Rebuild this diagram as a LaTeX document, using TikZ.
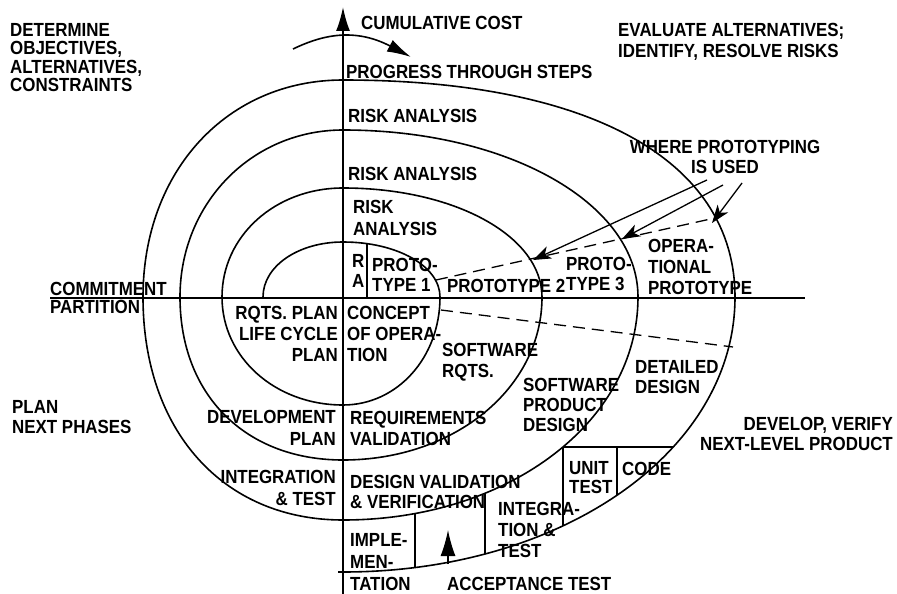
\documentclass[tikz,border=0pt]{standalone}
\usepackage{fontspec}
\setmainfont{Liberation Sans}[FakeStretch=0.89]
\usetikzlibrary{arrows.meta}
% label font: 19pt bold, line pitch given as argument
\newcommand\labelsize[1]{\fontsize{19}{#1}\selectfont\bfseries}
\tikzset{
  lbl/.style={inner sep=0pt, anchor=base west, align=left, font=\labelsize{21}},
  lblr/.style={inner sep=0pt, anchor=base east, align=right, font=\labelsize{21}},
  lblc/.style={inner sep=0pt, anchor=base, align=center, font=\labelsize{21}},
  pitch/.style={font=\labelsize{#1}},
  spiral/.style={line width=1.6pt, line join=round},
  axisline/.style={line width=1.8pt},
  divider/.style={line width=1.4pt},
  dashline/.style={line width=1.3pt, dash pattern=on 12pt off 7pt},
  bigtip/.style={-{Latex[length=24pt,width=14pt]}},
  protoarrow/.style={line width=1.3pt, -{Stealth[length=18pt,width=13pt,inset=5pt]}},
}
\begin{document}
\begin{tikzpicture}[x=1pt, y=-1pt]
\useasboundingbox[fill=white] (0,0) rectangle (897,594);

% axes
\coordinate (vbot) at (343,594);
\coordinate (vtop) at (343,7);
\coordinate (hleft) at (50,298);
\coordinate (hright) at (805,298);
\draw[axisline, bigtip] (vbot) -- (vtop);
\draw[axisline, line width=2.2pt] (hleft) -- (hright);

% the spiral, quarter by quarter
\draw[spiral] (263,297)
  .. controls (263,266.2) and (298.2,242) .. (343,242)
  .. controls (397.3,242) and (440,266.2) .. (440,297)
  .. controls (440,357.5) and (397.3,405) .. (343,405)
  .. controls (275.2,405) and (222,357.5) .. (222,297)
  .. controls (222,236) and (275.2,188) .. (343,188)
  .. controls (454.4,188) and (542,236) .. (542,297)
  .. controls (542,388.3) and (454.4,460) .. (343,460)
  .. controls (245.2,460) and (180,394.8) .. (180,297)
  .. controls (180,203.5) and (251.7,130) .. (343,130)
  .. controls (508.2,130) and (638,203.5) .. (638,297)
  .. controls (638,421.9) and (508.2,520) .. (343,520)
  .. controls (223,520) and (143,430.8) .. (143,297)
  .. controls (143,171.1) and (227,80) .. (343,80)
  .. controls (590,80) and (735,160.3) .. (735,297)
  .. controls (735,451) and (562.5,572) .. (343,572) -- (338,572);

% progress arrow over the axis
\coordinate (pstart) at (293,49);
\coordinate (pend) at (411,57);
\draw[line width=1.6pt, -{Latex[length=24pt,width=13pt]}] (pstart) .. controls (318,37) and (352,26) .. (pend);

% section dividers
\draw[divider] (367,243.6) -- (367,297);
\draw[divider] (415,513.6) -- (415,567.6);
\draw[divider] (485,494) -- (485,554);
\draw[divider] (563,447) -- (673,447);
\draw[divider] (563,447) -- (563,525.6);
\draw[divider] (617,447) -- (617,495);

% dashed partition lines
\coordinate (da1) at (436,280);
\coordinate (da2) at (715,218);
\coordinate (db1) at (441,310);
\coordinate (db2) at (733,347);
\draw[dashline] (da1) -- (da2);
\draw[dashline] (db1) -- (db2);

% prototyping pointers
\coordinate (ps1) at (707,180);
\coordinate (pt1) at (533,260);
\coordinate (ps2) at (723,185);
\coordinate (pt2) at (622,239);
\coordinate (ps3) at (742,183);
\coordinate (pt3) at (712,223);
\draw[protoarrow] (ps1) -- (pt1);
\draw[protoarrow] (ps2) -- (pt2);
\draw[protoarrow] (ps3) -- (pt3);

% acceptance test arrow
\coordinate (acs) at (448,564);
\coordinate (act) at (448,530);
\draw[line width=1.4pt, -{Latex[length=26pt,width=15pt]}] (acs) -- (act);

% quadrant captions (positions are the baseline of the last line)
\node[lbl, pitch=18.5] (det) at (10,92) {DETERMINE\\OBJECTIVES,\\ALTERNATIVES,\\CONSTRAINTS};
\node[lbl] (eval) at (618,58) {EVALUATE ALTERNATIVES;\\IDENTIFY, RESOLVE RISKS};
\node[lbl, pitch=20] (plannext) at (12,433) {PLAN\\NEXT PHASES};
\node[lblr, pitch=20] (develop) at (893,450) {DEVELOP, VERIFY\\NEXT-LEVEL PRODUCT};
\node[lbl, pitch=18] (commit) at (50,313) {COMMITMENT\\PARTITION};
\node[lblc, pitch=20] (where) at (725,173) {WHERE PROTOTYPING\\IS USED};

% axis captions
\node[lbl] (cum) at (361,30) {CUMULATIVE COST};
\node[lbl] (prog) at (346,78) {PROGRESS THROUGH STEPS};

% upper half
\node[lbl] (risk1) at (348,122) {RISK ANALYSIS};
\node[lbl] (risk2) at (348,180) {RISK ANALYSIS};
\node[lbl, pitch=22] (risk3) at (353,235) {RISK\\ANALYSIS};
\node[lbl, pitch=20] (ra) at (352,287) {R\\A};
\node[lbl, pitch=20] (proto1) at (372,291) {PROTO-\\TYPE 1};
\node[lbl] (proto2) at (447,292) {PROTOTYPE 2};
\node[lbl, pitch=20] (proto3) at (566,290) {PROTO-\\TYPE 3};
\node[lbl] (oper) at (648,294) {OPERA-\\TIONAL\\PROTOTYPE};

% lower half
\node[lblr] (rqts) at (338,361) {RQTS. PLAN\\LIFE CYCLE\\PLAN};
\node[lbl] (concept) at (347,361) {CONCEPT\\OF OPERA-\\TION};
\node[lbl] (swrqts) at (442,377) {SOFTWARE\\RQTS.};
\node[lbl, pitch=20] (swprod) at (523,431) {SOFTWARE\\PRODUCT\\DESIGN};
\node[lbl, pitch=20] (detail) at (635,393) {DETAILED\\DESIGN};
\node[lblr, pitch=22] (devplan) at (336,445) {DEVELOPMENT\\PLAN};
\node[lbl, pitch=20.5] (reqval) at (350,445) {REQUIREMENTS\\VALIDATION};
\node[lblr, pitch=22] (intest) at (336,505) {INTEGRATION\\\& TEST};
\node[lbl, pitch=20] (desval) at (350,508) {DESIGN VALIDATION\\\& VERIFICATION};
\node[lbl, pitch=22] (impl) at (350,590) {IMPLE-\\MEN-\\TATION};
\node[lbl] (integ) at (498,557) {INTEGRA-\\TION \&\\TEST};
\node[lbl, pitch=19] (unit) at (569,493) {UNIT\\TEST};
\node[lbl] (code) at (622,475) {CODE};
\node[lbl] (acc) at (447,590) {ACCEPTANCE TEST};
\end{tikzpicture}
\end{document}
